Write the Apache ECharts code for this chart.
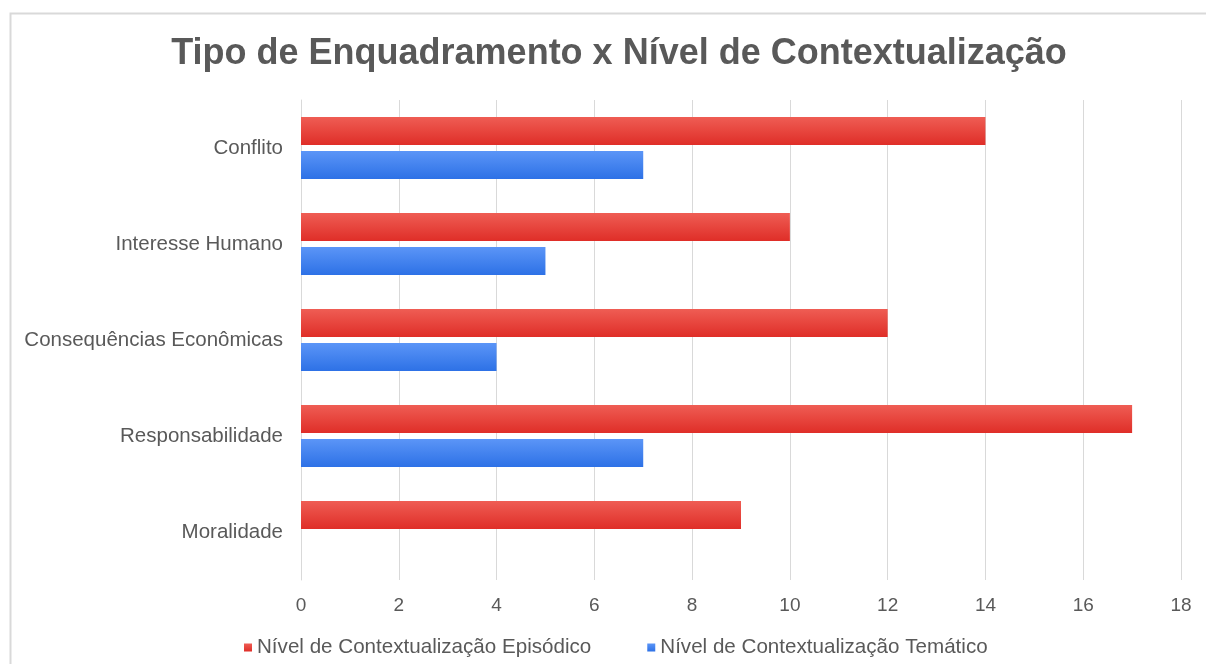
<!DOCTYPE html>
<html>
  <head>
    <meta charset="utf-8" />
    <title>Tipo de Enquadramento x Nível de Contextualização</title>
    <script src="https://cdn.jsdelivr.net/npm/echarts/dist/echarts.min.js"></script>
    <style>
      html, body { margin: 0; padding: 0; background: #fff; }
    </style>
  </head>
  <body>
    <div id="main" style="width: 1206px; height: 664px"></div>
    <script type="text/javascript">
      var categories = ['Conflito', 'Interesse Humano', 'Consequências Econômicas', 'Responsabilidade', 'Moralidade'];
      var episodico = [14, 10, 12, 17, 9];
      var tematico = [7, 5, 4, 7, 0];
      var seriesNames = ['Nível de Contextualização Episódico', 'Nível de Contextualização Temático'];

      var myChart = echarts.init(document.getElementById('main'));

      // gradiente vertical das barras (efeito do Excel)
      function grad(top, bottom) {
        return new echarts.graphic.LinearGradient(0, 0, 0, 1, [
          { offset: 0, color: top },
          { offset: 1, color: bottom }
        ]);
      }

      var barShadow = {
        shadowColor: 'rgba(0,0,0,0.45)',
        shadowBlur: 6,
        shadowOffsetX: 2,
        shadowOffsetY: 3
      };

      var option = {
        backgroundColor: '#fff',
        textStyle: { fontFamily: 'Liberation Sans, Arial, sans-serif' },
        graphic: [
          {
            type: 'rect',
            left: 8,
            top: 11,
            shape: { width: 1300, height: 800 },
            style: { fill: 'none', stroke: '#d9d9d9', lineWidth: 2 },
            silent: true
          }
        ],
        title: {
          text: 'Tipo de Enquadramento x Nível de Contextualização',
          left: 614,
          textAlign: 'center',
          top: 31,
          textStyle: {
            fontSize: 36,
            fontWeight: 'bold',
            color: '#595959',
            fontFamily: 'Liberation Sans, Arial, sans-serif'
          }
        },
        legend: {
          bottom: 1,
          left: 239,
          itemWidth: 8,
          itemHeight: 8,
          itemGap: 56,
          icon: 'rect',
          textStyle: { fontSize: 20.6, color: '#595959' },
          data: seriesNames
        },
        grid: {
          left: 301,
          right: 25,
          top: 100,
          bottom: 84,
          containLabel: false
        },
        xAxis: {
          type: 'value',
          min: 0,
          max: 18,
          interval: 2,
          axisLine: { show: false },
          axisTick: { show: false },
          axisLabel: { fontSize: 19, color: '#595959', margin: 16 },
          splitLine: { lineStyle: { color: '#d9d9d9', width: 1 } }
        },
        yAxis: {
          type: 'category',
          inverse: true,
          data: categories,
          axisLine: { show: true, lineStyle: { color: '#d9d9d9' } },
          axisTick: { show: false },
          axisLabel: { fontSize: 20.5, color: '#595959', margin: 18 }
        },
        series: [
          {
            name: seriesNames[0],
            type: 'bar',
            data: episodico,
            barWidth: 28,
            barGap: '22%',
            itemStyle: Object.assign({ color: grad('#ef5d54', '#df2e28') }, barShadow)
          },
          {
            name: seriesNames[1],
            type: 'bar',
            data: tematico,
            barWidth: 28,
            barGap: '22%',
            itemStyle: Object.assign({ color: grad('#5b95f7', '#2d71e6') }, barShadow)
          }
        ]
      };

      myChart.setOption(option);
    </script>
  </body>
</html>
